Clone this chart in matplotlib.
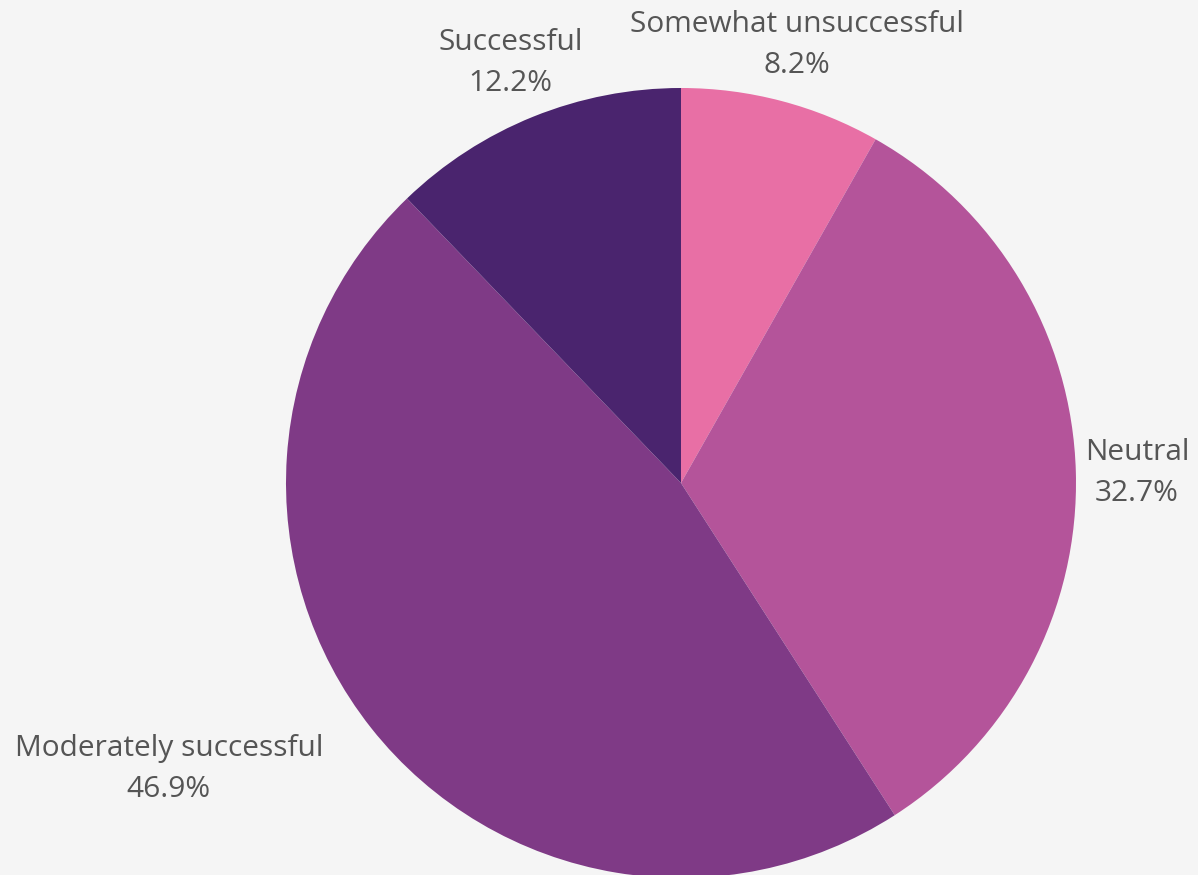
import numpy as np
import matplotlib.pyplot as plt

# survey answers, clockwise from 12 o'clock
labels = ['Somewhat unsuccessful', 'Neutral', 'Moderately successful', 'Successful']
shares = [8.2, 32.7, 46.9, 12.2]
colors = ['#E86FA5', '#B4549A', '#7F3A86', '#4A246E']

W, H = 1198, 875
fig = plt.figure(figsize=(W / 100, H / 100), dpi=100, facecolor='#F5F5F5')
ax = fig.add_axes([0, 0, 1, 1])
ax.set_facecolor('#F5F5F5')

cx, cy, r = 681, H - 483, 395
wedges, _ = ax.pie(shares, colors=colors, startangle=90, counterclock=False,
                   center=(cx, cy), radius=r, frame=True,
                   wedgeprops=dict(linewidth=0))
ax.set_xlim(0, W)
ax.set_ylim(0, H)
ax.set_aspect('equal')
ax.axis('off')

# labels sit just outside the rim, at each wedge's mid angle
for w, name, val in zip(wedges, labels, shares):
    mid = np.deg2rad((w.theta1 + w.theta2) / 2)
    x = cx + 1.155 * r * np.cos(mid)
    y = cy + 1.155 * r * np.sin(mid) - 3
    ha = 'right' if np.cos(mid) < -0.5 else 'center'
    ax.text(x, y, f'{name}\n{val:.1f}%', ha=ha, va='center', multialignment='center',
            fontsize=21.5, color='#555555', family='Open Sans', linespacing=1.56)

fig.savefig('out.png', dpi=100, facecolor=fig.get_facecolor())
